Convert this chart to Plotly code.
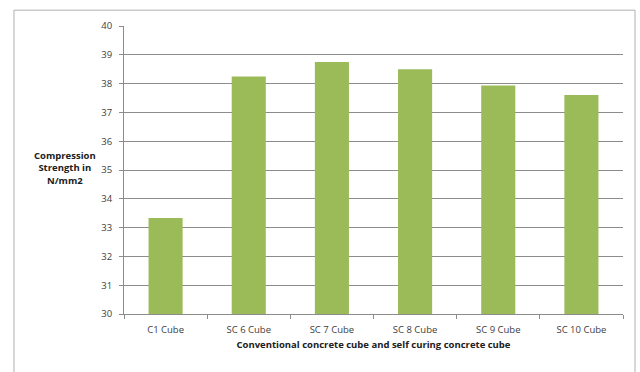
import plotly.graph_objects as go

# Compression strength of conventional vs self-curing concrete cubes
cubes = ["C1 Cube", "SC 6 Cube", "SC 7 Cube", "SC 8 Cube", "SC 9 Cube", "SC 10 Cube"]
strength = [33.33, 38.25, 38.75, 38.5, 37.93, 37.6]
y_ticks = [30, 31, 32, 33, 34, 35, 36, 37, 38, 39, 40]

FONT = "Open Sans"
GRID = "#8c8c8c"

fig = go.Figure(
    go.Bar(
        x=cubes,
        y=strength,
        marker=dict(color="#9bbb59", line=dict(width=0)),
        width=0.41,
    )
)

fig.update_layout(
    width=640,
    height=372,
    margin=dict(l=124, r=17, t=26, b=58),
    paper_bgcolor="white",
    plot_bgcolor="white",
    showlegend=False,
    font=dict(family=FONT, size=9, color="#404040"),
    xaxis=dict(
        showline=True,
        linecolor=GRID,
        linewidth=1,
        ticks="outside",
        tickson="boundaries",
        ticklen=4,
        tickcolor=GRID,
        ticklabelstandoff=7,
        tickfont=dict(size=9.5, color="#404040"),
        title=dict(
            text="<b>Conventional concrete cube and self curing concrete cube</b>",
            font=dict(size=9.5, color="#202020"),
            standoff=5,
        ),
    ),
    yaxis=dict(
        range=[30, 40],
        tickvals=y_ticks,
        showline=True,
        linecolor=GRID,
        linewidth=1,
        ticks="outside",
        ticklen=4,
        tickcolor=GRID,
        ticklabelstandoff=5,
        showgrid=True,
        gridcolor=GRID,
        gridwidth=1,
        zeroline=False,
        tickfont=dict(size=9.5, color="#404040"),
    ),
    annotations=[
        dict(
            text="<b>Compression<br>Strength in<br>N/mm2</b>",
            xref="paper", yref="paper",
            x=-0.118, y=0.507,
            xanchor="center", yanchor="middle",
            showarrow=False,
            align="center",
            font=dict(size=9.5, color="#202020"),
        )
    ],
    shapes=[
        dict(
            type="rect",
            xref="paper", yref="paper",
            x0=-0.2205, x1=1.0241, y0=-0.25, y1=1.055,
            line=dict(color="#b0b0b0", width=1),
            fillcolor="rgba(0,0,0,0)",
            layer="below",
        )
    ],
)

fig.write_html("out.html")
